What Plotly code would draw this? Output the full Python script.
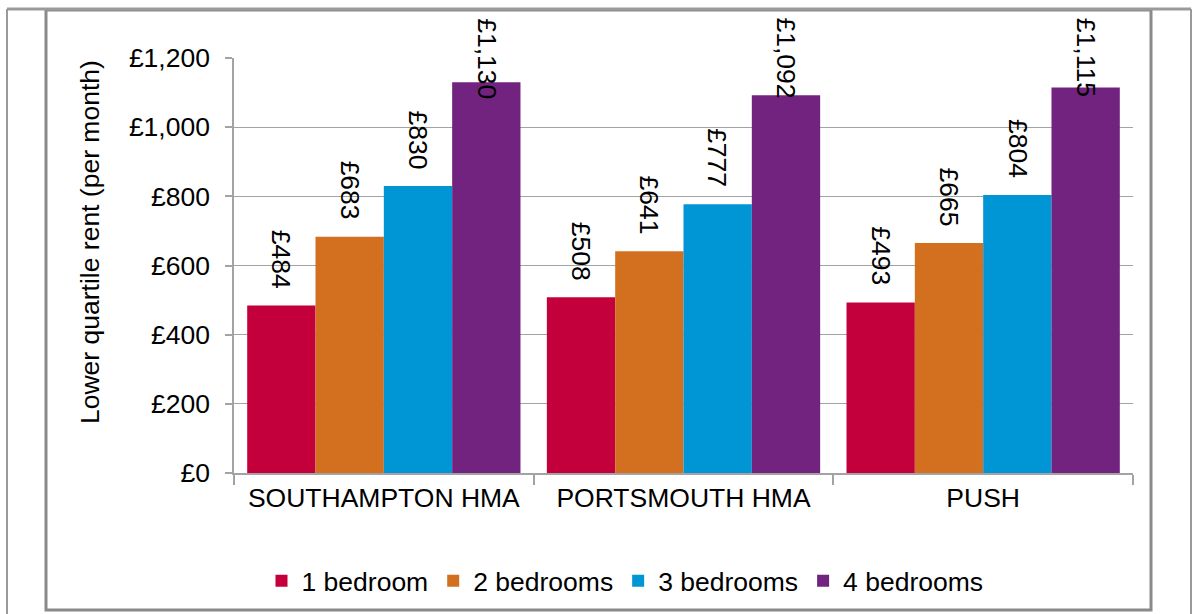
import plotly.graph_objects as go

# Lower quartile monthly rents by housing market area and property size
areas = ["SOUTHAMPTON HMA", "PORTSMOUTH HMA", "PUSH"]
series_names = ["1 bedroom", "2 bedrooms", "3 bedrooms", "4 bedrooms"]
rent_1bed = [484, 508, 493]
rent_2bed = [683, 641, 665]
rent_3bed = [830, 777, 804]
rent_4bed = [1130, 1092, 1115]
y_ticks = [0, 200, 400, 600, 800, 1000, 1200]
y_tick_labels = ["£{:,}".format(v) for v in y_ticks]

series_values = [rent_1bed, rent_2bed, rent_3bed, rent_4bed]
colors = ["#C3003B", "#D2701F", "#0096D6", "#72237F"]

W, H = 1194, 614
# plot-area edges in pixels
L, R, T, B = 234, 1133, 58, 473
Y_MAX = 1200
BARGAP = 0.088
FONT = "Liberation Sans, Arial, sans-serif"
FS = 26.5
GRID = "#a3a3a3"


def px_x(p):
    return (p - L) / (R - L)


def px_y(p):
    return (B - p) / (B - T)


fig = go.Figure()
for name, vals, col in zip(series_names, series_values, colors):
    fig.add_trace(go.Bar(
        name=name, x=areas, y=vals,
        marker=dict(color=col, line=dict(width=0)),
    ))

# value labels, rotated, sitting above each bar (kept inside the chart box)
n = len(series_names)
bar_w = (1 - BARGAP) / n
char_w = {",": 0.278}
label_gap = 15
top_limit = 16
for i, vals in enumerate(series_values):
    for j, v in enumerate(vals):
        txt = "£{:,}".format(v)
        est_len = sum(char_w.get(c, 0.556) for c in txt) * FS + 4
        bar_top_px = B - v / Y_MAX * (B - T)
        xpos = j + (i - (n - 1) / 2) * bar_w
        common = dict(
            x=xpos, xref="x", text=txt, showarrow=False, textangle=90,
            font=dict(family=FONT, size=FS, color="#000000"),
            xanchor="center",
        )
        if bar_top_px - label_gap - est_len < top_limit:
            fig.add_annotation(**common, y=px_y(top_limit), yref="paper",
                               yanchor="top")
        else:
            fig.add_annotation(**common, y=v, yref="y", yanchor="bottom",
                               yshift=label_gap)

# y-axis title
fig.add_annotation(
    text="Lower quartile rent (per month)", textangle=-90, showarrow=False,
    x=px_x(90), y=px_y(242), xref="paper", yref="paper",
    xanchor="center", yanchor="middle",
    font=dict(family=FONT, size=FS, color="#000000"),
)

# chart-area frame and outer page frame
fig.add_shape(type="rect", xref="paper", yref="paper",
              x0=px_x(46), x1=px_x(1151), y0=px_y(610), y1=px_y(10),
              line=dict(color="#8a8a8a", width=3), layer="below")
fig.add_shape(type="line", xref="paper", yref="paper",
              x0=px_x(7), x1=px_x(7), y0=px_y(9), y1=px_y(620),
              line=dict(color="#9a9a9a", width=2))
fig.add_shape(type="line", xref="paper", yref="paper",
              x0=px_x(1191), x1=px_x(1191), y0=px_y(9), y1=px_y(620),
              line=dict(color="#9a9a9a", width=2))
fig.add_shape(type="line", xref="paper", yref="paper",
              x0=px_x(7), x1=px_x(1191), y0=px_y(9), y1=px_y(9),
              line=dict(color="#9a9a9a", width=3))

fig.update_layout(
    width=W, height=H,
    margin=dict(l=L, r=W - R, t=T, b=H - B, pad=0),
    paper_bgcolor="white", plot_bgcolor="white",
    barmode="group", bargap=BARGAP, bargroupgap=0,
    font=dict(family=FONT, size=FS, color="#000000"),
    legend=dict(
        orientation="h", xref="container", yref="container",
        x=625 / W, y=1 - 581 / H, xanchor="center", yanchor="middle",
        font=dict(family=FONT, size=FS), itemwidth=30,
        traceorder="normal",
    ),
)
fig.update_xaxes(
    showline=True, linecolor=GRID, linewidth=1.5,
    ticks="outside", tickson="boundaries", ticklen=10, tickcolor=GRID,
    tickwidth=1.5, showgrid=False,
    tickfont=dict(family=FONT, size=FS, color="#000000"),
)
fig.update_yaxes(
    range=[0, Y_MAX], tickmode="array", tickvals=y_ticks,
    ticktext=y_tick_labels,
    showline=True, linecolor=GRID, linewidth=1.5,
    ticks="outside", ticklen=7, tickcolor=GRID, tickwidth=1.5,
    showgrid=True, gridcolor=GRID, gridwidth=1, zeroline=False,
    ticklabelstandoff=10,
    tickfont=dict(family=FONT, size=FS, color="#000000"),
)

fig.write_html("out.html")
